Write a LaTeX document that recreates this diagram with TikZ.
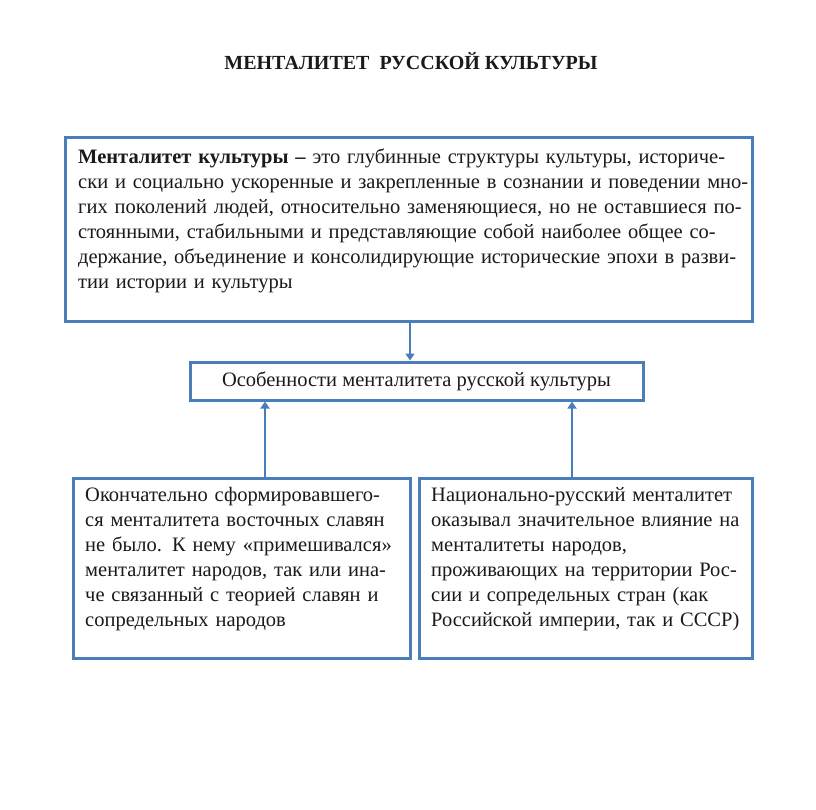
\documentclass[tikz,border=0pt]{standalone}
\usepackage{fontspec}
\setmainfont{Liberation Serif}
\usetikzlibrary{arrows.meta}
\definecolor{boxblue}{HTML}{4A7EBB}
\definecolor{txt}{HTML}{1A1A1A}
\newcommand\jline[2]{\makebox[#1][s]{#2}}
\begin{document}
\begin{tikzpicture}[x=1pt,y=-1pt,
  box/.style={draw=boxblue,line width=3pt,inner sep=0pt,minimum width=#1},
  body/.style={font=\fontsize{20.5}{25}\selectfont,text=txt,inner sep=0pt,anchor=north west,align=left},
  arr/.style={draw=boxblue,line width=2.5pt,-{Triangle[width=9pt,length=7pt]}}]
\useasboundingbox (0,0) rectangle (816,809);
\fill[white] (0,0) rectangle (816,809);
% title
\node[font=\fontsize{20}{24}\selectfont\bfseries,text=txt] (title) at (411,61) {МЕНТАЛИТЕТ\ \ РУССКОЙ КУЛЬТУРЫ};
% boxes
\node[box=687pt,minimum height=184pt] (top) at (408.5,229) {};
\node[box=453pt,minimum height=38pt,font=\fontsize{20.5}{25}\selectfont,text=txt] (mid) at (416.5,381) {Особенности менталитета русской культуры};
\node[box=337pt,minimum height=180pt] (left) at (241.5,568) {};
\node[box=333pt,minimum height=180pt] (right) at (585.5,568) {};
% texts
\node[body,text width=660pt] (toptext) at (78,149) {%
\jline{660pt}{\textbf{Менталитет культуры –} это глубинные структуры культуры, историче-}\\
\jline{660pt}{ски и социально ускоренные и закрепленные в сознании и поведении мно-}\\
\jline{660pt}{гих поколений людей, относительно заменяющиеся, но не оставшиеся по-}\\
\jline{660pt}{стоянными, стабильными и представляющие собой наиболее общее со-}\\
\jline{660pt}{держание, объединение и консолидирующие исторические эпохи в разви-}\\
тии истории и культуры};
\node[body,text width=316pt] (lefttext) at (85,487) {%
\jline{316pt}{Окончательно сформировавшего-}\\
\jline{316pt}{ся менталитета восточных славян}\\
\jline{316pt}{не было. К нему «примешивался»}\\
\jline{316pt}{менталитет народов, так или ина-}\\
\jline{316pt}{че связанный с теорией славян и}\\
сопредельных народов};
\node[body,text width=315pt] (righttext) at (431,487) {%
Национально-русский менталитет\\
оказывал значительное влияние на\\
менталитеты народов,\\
проживающих на территории Рос-\\
сии и сопредельных стран (как\\
Российской империи, так и СССР)};
% connectors
\draw[arr] ([xshift=1.5pt]top.south) -- ([xshift=1.5pt]top.south |- mid.north);
\draw[arr] ([xshift=23.5pt]left.north) -- ([xshift=23.5pt]left.north |- mid.south);
\draw[arr] ([xshift=-13.5pt]right.north) -- ([xshift=-13.5pt]right.north |- mid.south);
\end{tikzpicture}
\end{document}
